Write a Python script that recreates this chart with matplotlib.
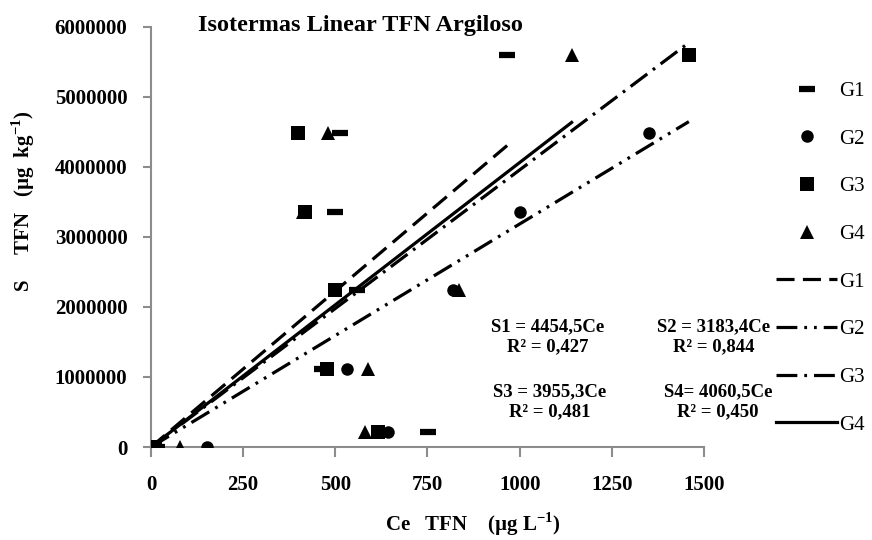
import matplotlib
matplotlib.use('Agg')
import matplotlib.pyplot as plt

plt.rcParams['font.family'] = ['Liberation Serif', 'DejaVu Serif']
plt.rcParams['mathtext.fontset'] = 'custom'
plt.rcParams['mathtext.rm'] = 'Liberation Serif:bold'
plt.rcParams['lines.scale_dashes'] = False

#---------------------- data ----------------------#
groups = ['G1', 'G2', 'G3', 'G4']
# S levels (same for every group)
s_vals = [0, 214000, 1120000, 2240000, 3360000, 4480000, 5600000]
# Ce per group
ce_g1 = [15, 751, 464, 559, 499, 513, 966]
ce_g2 = [152, 643, 531, 818, 1001, 1351, 1459]
ce_g3 = [11, 616, 477, 499, 418, 399, 1459]
ce_g4 = [79, 580, 589, 835, 412, 480, 1141]
# linear isotherm slopes (S = k*Ce)
slopes = [4454.5, 3183.4, 3955.3, 4060.5]
r2 = ['0,427', '0,844', '0,481', '0,450']
eq_labels = ['S1 = 4454,5Ce', 'S2 = 3183,4Ce', 'S3 = 3955,3Ce', 'S4= 4060,5Ce']

ce_list = [ce_g1, ce_g2, ce_g3, ce_g4]
markers = ['_', 'o', 's', '^']
msizes = [11, 9, 9.5, 10]
dashes = [(13, 6), (15, 5, 2, 5, 2, 5), (15, 5, 2, 5), None]

fig = plt.figure(figsize=(8.72, 5.4), dpi=100)
ax = fig.add_axes([0.1732, 0.1722, 0.6341, 0.7784])

#scatter points
for g, ce, m, ms in zip(groups, ce_list, markers, msizes):
    mew = 4.5 if m == '_' else 0
    ax.plot(ce, s_vals, linestyle='none', marker=m, markersize=ms, color='black',
            markeredgewidth=mew, label=g, zorder=3)

#trend lines through origin
for g, ce, k, d in zip(groups, ce_list, slopes, dashes):
    xmax = max(ce)
    line, = ax.plot([0, xmax], [0, k * xmax], color='black', lw=2.3, label=g, zorder=2)
    if d is not None:
        line.set_dashes(d)

ax.set_xlim(0, 1500)
ax.set_ylim(0, 6000000)
ax.set_xticks([0, 250, 500, 750, 1000, 1250, 1500])
ax.set_yticks([0, 1000000, 2000000, 3000000, 4000000, 5000000, 6000000])
ax.set_yticklabels(['0', '1000000', '2000000', '3000000', '4000000', '5000000', '6000000'])

for sp in ['top', 'right']:
    ax.spines[sp].set_visible(False)
for sp in ['left', 'bottom']:
    ax.spines[sp].set_color('#8c8c8c')
    ax.spines[sp].set_linewidth(1.5)
ax.tick_params(axis='x', direction='out', length=7, width=1.5, color='#8c8c8c', pad=13,
               labelsize=15)
ax.tick_params(axis='y', direction='out', length=6, width=1.5, color='#8c8c8c', pad=11,
               labelsize=15)
for lab in ax.get_xticklabels() + ax.get_yticklabels():
    lab.set_fontweight('bold')

ax.set_xlabel(r'Ce   TFN    (µg L$^{\mathregular{-1}}$)', fontsize=15, fontweight='bold')
ax.set_ylabel(r'S     TFN   (µg  kg$^{\mathregular{-1}}$)', fontsize=15, fontweight='bold')
ax.xaxis.set_label_coords(0.582, -0.150)
ax.yaxis.set_label_coords(-0.206, 0.585)

fig.text(198 / 872, 1 - 26 / 540, 'Isotermas Linear TFN Argiloso', fontsize=17.5,
         fontweight='bold', va='center', ha='left')

#equations
eq_pos = [(548, 318), (714, 318), (550, 383), (718, 383)]
for (px, py), eq, r in zip(eq_pos, eq_labels, r2):
    fig.text(px / 872, 1 - py / 540, eq + '\nR² = ' + r, fontsize=13.5, ha='center',
             va='top', linespacing=1.25, fontweight='bold')

leg = ax.legend(loc='upper left', bbox_to_anchor=(1.116, 0.89), frameon=False,
                fontsize=15, handlelength=2.9, handletextpad=0.1, labelspacing=1.35,
                borderaxespad=0)

fig.savefig('out.png', dpi=100)
